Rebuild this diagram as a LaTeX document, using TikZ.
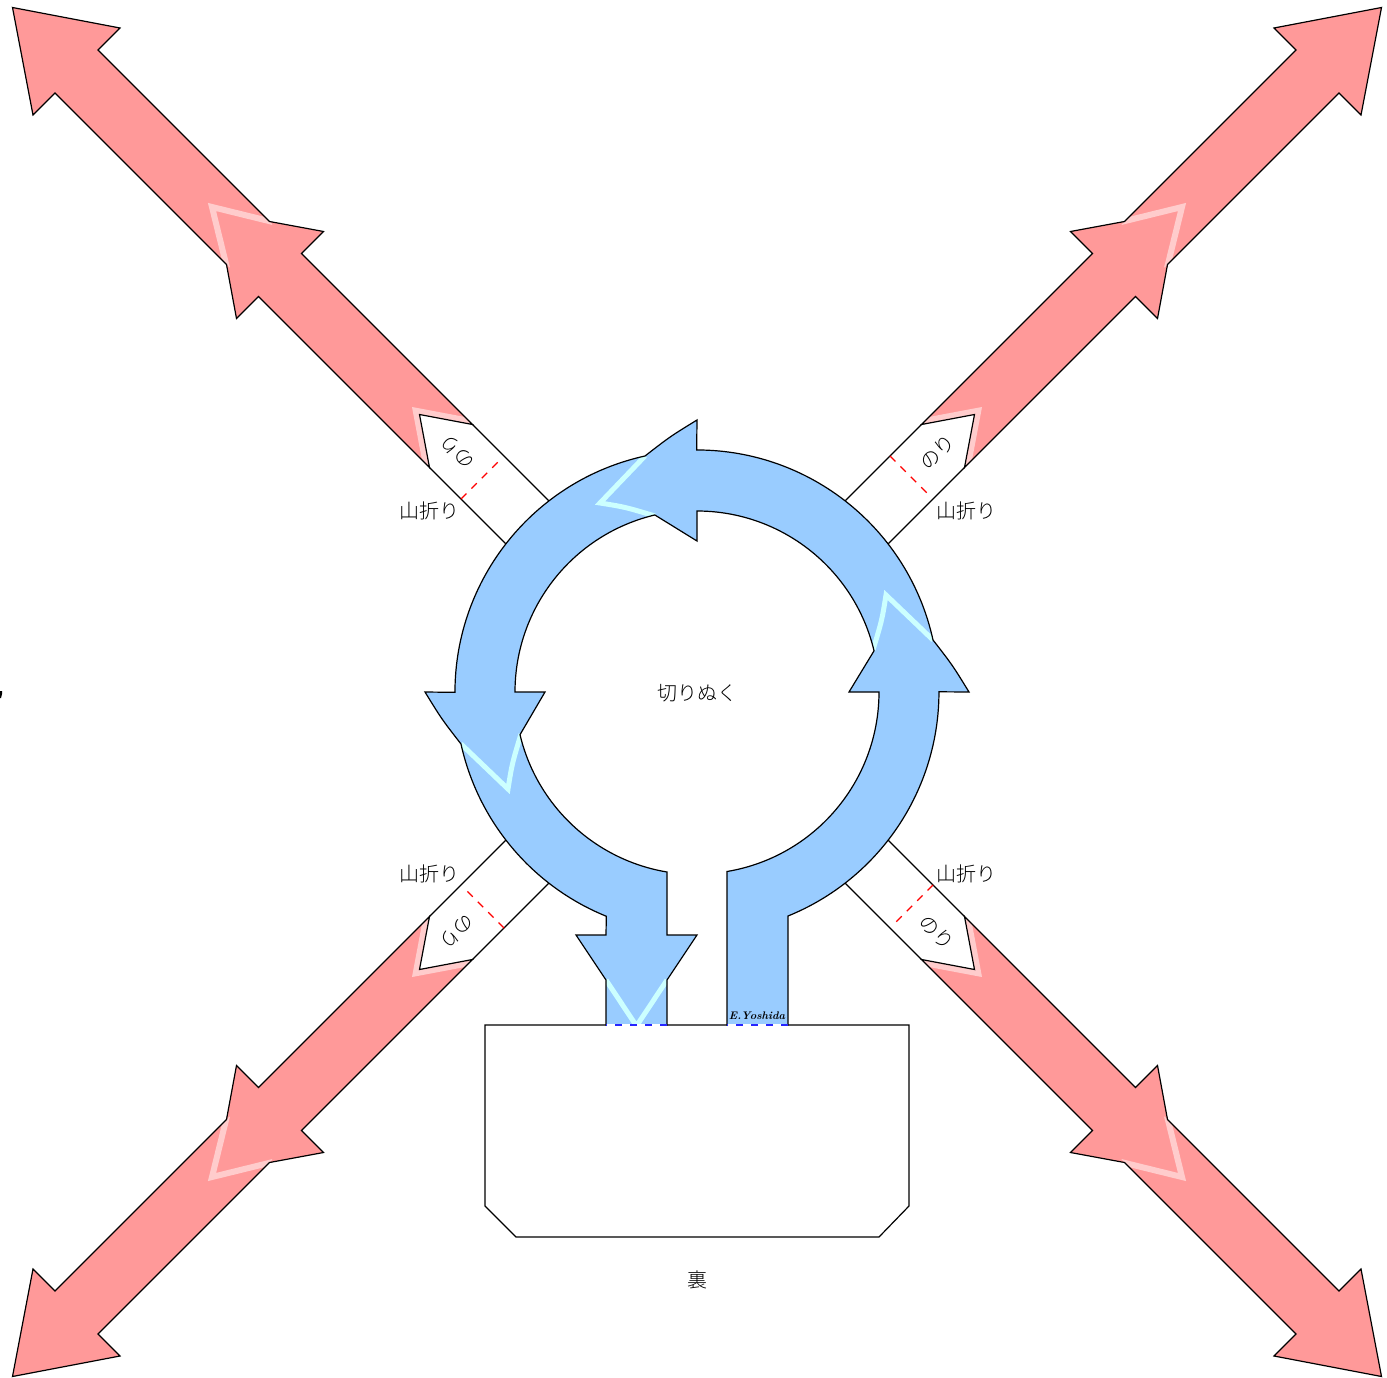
\documentclass[tikz,border=0pt]{standalone}
\usepackage{fontspec}
\newfontfamily\cjk{Noto Sans CJK JP Light}
\definecolor{redarm}{HTML}{FF9999}
\definecolor{redpale}{HTML}{FFCCCC}
\definecolor{bluering}{HTML}{99CCFF}
\definecolor{bluepale}{HTML}{CCFFFF}
\newcommand{\armoutline}{(246,21.5) -- (417,21.5) -- (417,43.5) -- (449,21.5) -- (620.5,21.5) -- (620.5,43.5) -- (684.5,0) -- (620.5,-43.5) -- (620.5,-21.5) -- (449,-21.5) -- (417,-43.5) -- (417,-21.5) -- (246,-21.5) -- (277.5,0) -- cycle}
\newcommand{\ringoutline}{(91,333) -- (91,224) arc[start angle=67.9,end angle=0,radius=242] -- (272,0) .. controls (255.4,-27) .. (236,-52) arc[start angle=-12.4,end angle=-90,radius=242] -- (0,-272) .. controls (-27,-255.4) .. (-52,-236) arc[start angle=-102.4,end angle=-180,radius=242] -- (-272,0) .. controls (-255.4,27) .. (-236,52) arc[start angle=167.6,end angle=112.1,radius=242] -- (-91,243) -- (-121,243) -- (-91,288) -- (-91,333) -- (-30,333) -- (-30,288) -- (0,243) -- (-30,243) -- (-30,180) arc[start angle=99.5,end angle=166.6,radius=182] -- (-152,0) -- (-182,0) arc[start angle=180,end angle=256.6,radius=182] -- (0,-151) -- (0,-181) arc[start angle=270,end angle=346.6,radius=182] -- (152,0) -- (182,0) arc[start angle=0,end angle=80.5,radius=182] -- (30,333) -- cycle}
\tikzset{
  outline/.style={draw=black,line width=1.2pt,line join=miter},
  palered/.style={draw=redpale,line width=6pt,line join=miter},
  paleblue/.style={draw=bluepale,line width=5pt,line join=miter},
  foldline/.style={draw=red,line width=1.1pt,dash pattern=on 7.7pt off 7pt},
  gluefold/.style={draw=blue!85!white,line width=1.5pt,dash pattern=on 7.5pt off 7.5pt},
  jp/.style={font=\cjk\fontsize{20pt}{20pt}\selectfont,inner sep=0pt},
}
\begin{document}
\begin{tikzpicture}[x=1pt,y=-1pt]
\useasboundingbox (0,0) rectangle (1387,1378);
\fill[white] (0,0) rectangle (1387,1378);
% the four arms
\foreach \ax/\ay/\bx/\by/\ang/\nm in {-1/1/1/1/135/tl,1/1/1/-1/45/tr,1/-1/-1/-1/-45/br,-1/-1/-1/1/225/bl}{
\begin{scope}[shift={(697,692)},x={(\ax pt,\ay pt)},y={(\bx pt,\by pt)}]
  \fill[redarm] \armoutline;
  \begin{scope}
    \clip (150,-21.5) -- (700,-21.5) -- (700,21.5) -- (150,21.5) -- cycle;
    \draw[palered] (447,23) -- (485,0) -- (447,-23);
    \draw[palered,line width=12pt] (240,25.6) -- (277.5,0) -- (240,-25.6);
  \end{scope}
  \fill[white] (150,21.5) -- (246,21.5) -- (277.5,0) -- (246,-21.5) -- (150,-21.5) -- cycle;
  \draw[outline] \armoutline;
  \draw[outline] (246,21.5) -- (150,21.5) (246,-21.5) -- (150,-21.5);
  \draw[foldline] (214.5,-21.5) -- (214.5,16.5);
  \node[jp,rotate=\ang] (glue\nm) at (240,0) {のり};
\end{scope}
}
% tab at the bottom
\draw[outline,fill=white] (485,1025) -- (909,1025) -- (909,1206) -- (879,1237) -- (516,1237) -- (485,1206) -- cycle;
% ring
\begin{scope}[shift={(697,692)}]
  \fill[bluering] \ringoutline;
  \begin{scope}
    \clip \ringoutline;
    \draw[paleblue] (236,-52) -- (189,-97) .. controls (185,-72) .. (176,-42);
    \draw[paleblue] (-52,-236) -- (-97,-189) .. controls (-72,-185) .. (-42,-176);
    \draw[paleblue] (-236,52) -- (-189,97) .. controls (-185,72) .. (-176,42);
    \draw[paleblue] (-91,288) -- (-60.5,334) -- (-30,288);
  \end{scope}
  \draw[outline] \ringoutline;
  \draw[white,line width=1.6pt] (-91,333) -- (-30,333) (30,333) -- (91,333);
  \draw[gluefold] (-30,333) -- (-91,333);
  \draw[gluefold] (91,333) -- (30,333);
\end{scope}
\node[jp] (cut) at (697.5,693) {切りぬく};
\node[jp] (back) at (697,1280) {裏};
\node[jp] (foldtl) at (429.5,511) {山折り};
\node[jp] (foldtr) at (966,511) {山折り};
\node[jp] (foldbl) at (429.5,874) {山折り};
\node[jp] (foldbr) at (966,874) {山折り};
\node[inner sep=0pt,font=\fontsize{11pt}{11pt}\selectfont\bfseries\itshape] (sign) at (757,1016) {E.Yoshida};
\fill[black] (0,691) -- (2,691) -- (2,694) -- (1,698) -- (0,698) -- cycle;
\end{tikzpicture}
\end{document}
